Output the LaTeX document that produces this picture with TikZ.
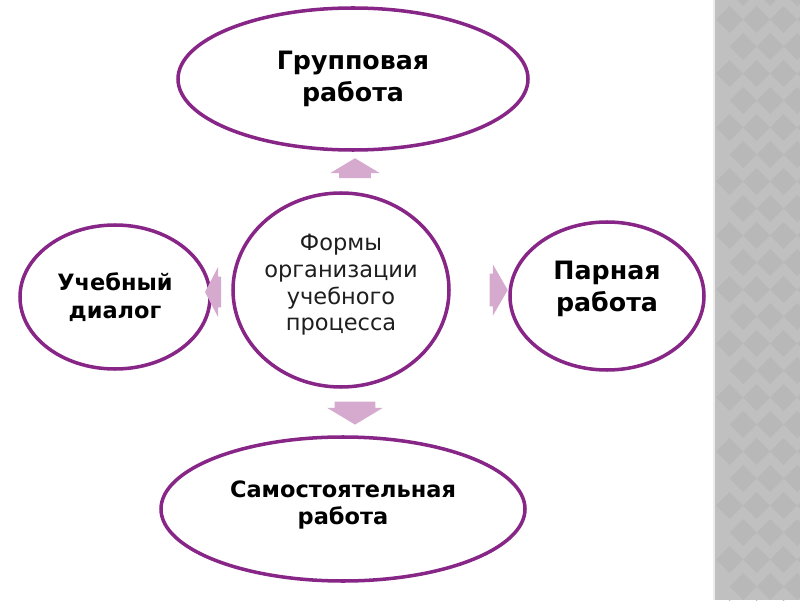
\documentclass[tikz,border=0pt]{standalone}
\usepackage{fontspec}
\setmainfont{DejaVu Sans}
\usetikzlibrary{shapes.geometric, shapes.arrows}

\definecolor{rimpurple}{RGB}{135,38,135}
\definecolor{arrowpink}{RGB}{214,170,206}
\definecolor{stripgray}{RGB}{192,192,192}
\definecolor{diamondgray}{RGB}{184,184,184}
\definecolor{centertext}{RGB}{30,30,30}

\begin{document}
\begin{tikzpicture}[
    every node/.style={align=center},
    oval/.style={ellipse, draw=rimpurple, line width=2.5pt, fill=white, inner sep=0pt},
    bigtext/.style={font=\fontsize{18}{23}\selectfont\bfseries},
    smalltext/.style={font=\fontsize{16}{19.5}\selectfont\bfseries},
    blockarrow/.style={single arrow, fill=arrowpink, draw=none, inner sep=0pt, single arrow head indent=0pt}
]

% background and grey strip
\useasboundingbox (0,0) rectangle (20,15);
\fill[white] (0,0) rectangle (20,15);
\fill[stripgray] (17.825,0) rectangle (20,15);
\begin{scope}
    \clip (17.875,0) rectangle (20,15);
    \foreach \i in {0,...,4} {
        \foreach \j in {0,...,23} {
            \fill[diamondgray] ({17.9+\i*0.675+mod(\j,2)*0.3375}, {\j*0.675-0.3375}) -- ++(0.3375,0.3375) -- ++(0.3375,-0.3375) -- ++(-0.3375,-0.3375) -- cycle;
        }
    }
\end{scope}
\draw[white!85!gray, line width=0.8pt] (17.85,0) -- (17.85,15);

% ============ ELLIPSES ============
\node[oval, minimum width=5.4cm, minimum height=4.85cm] (forms) at (8.525, 7.75) {};
\node[font=\fontsize{16}{19}\selectfont, text=centertext] at (8.525, 7.875) {Формы\\организации\\учебного\\процесса};

\node[oval, minimum width=8.75cm, minimum height=3.55cm, bigtext] (group) at (8.825, 13.025) {Групповая\\работа};
\node[oval, minimum width=4.75cm, minimum height=3.6cm, smalltext] (dialog) at (2.875, 7.575) {Учебный\\диалог};
\node[oval, minimum width=4.85cm, minimum height=3.7cm] (pair) at (15.175, 7.6) {};
\node[bigtext] at (15.175, 7.78) {Парная\\работа};
\node[oval, minimum width=9.1cm, minimum height=3.6cm] (self) at (8.575, 2.275) {};
\node[smalltext] at (8.575, 2.375) {Самостоятельная\\работа};

% ============ BLOCK ARROWS ============
\node[blockarrow, shape border rotate=90, minimum height=0.5cm, inner xsep=0.39cm,
      single arrow head extend=0.225cm, single arrow tip angle=118] (toup) at (8.875, 10.675) {};
\node[blockarrow, shape border rotate=270, minimum height=0.575cm, inner xsep=0.5cm,
      single arrow head extend=0.19cm, single arrow tip angle=118] (todown) at (8.875, 4.825) {};
\node[blockarrow, minimum height=0.45cm, inner ysep=0.4cm,
      single arrow head extend=0.24cm, single arrow tip angle=120] (toright) at (12.35, 7.75) {};
\node[blockarrow, shape border rotate=180, minimum height=0.4cm, inner ysep=0.375cm,
      single arrow head extend=0.25cm, single arrow tip angle=125] (toleft) at (5.425, 7.7) {};

\end{tikzpicture}
\end{document}
